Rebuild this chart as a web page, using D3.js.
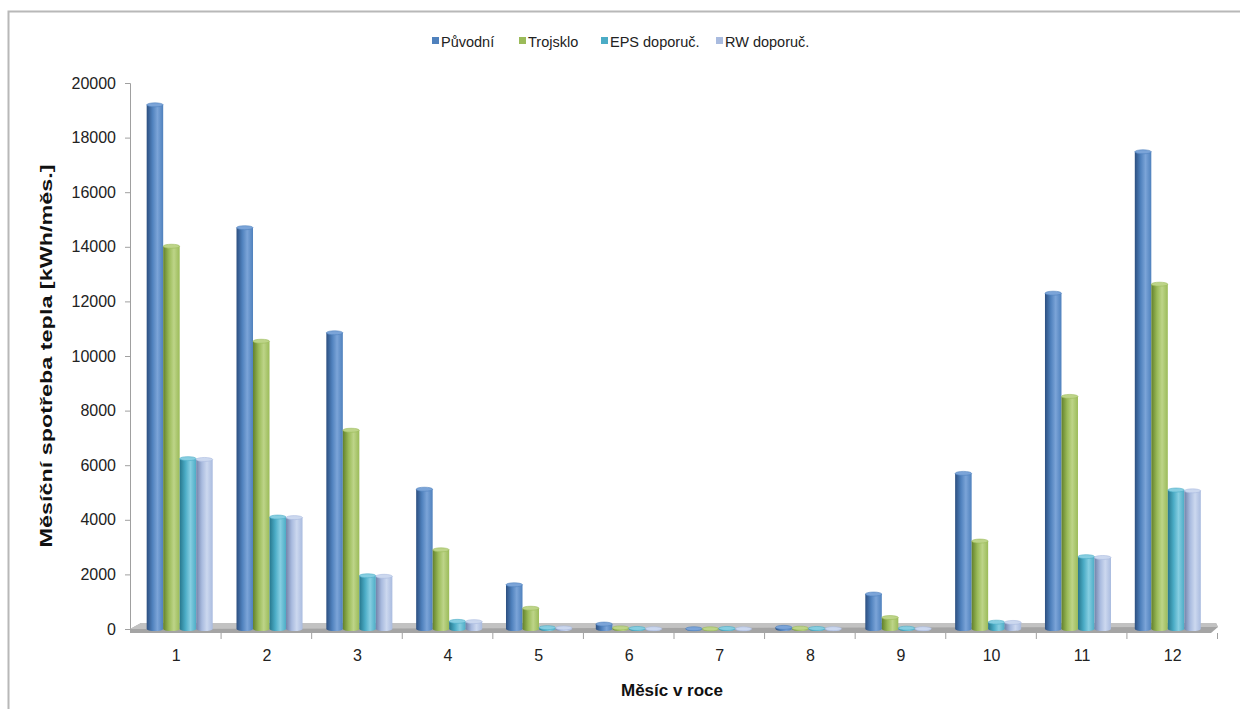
<!DOCTYPE html>
<html><head><meta charset="utf-8">
<script src="https://cdn.jsdelivr.net/npm/d3@7"></script>
<style>body{margin:0;background:#fff;}svg{display:block;font-family:"Liberation Sans",Arial,sans-serif;}</style>
</head><body>
<svg id="c" width="1240" height="709"></svg>
<script>
const months = ["1","2","3","4","5","6","7","8","9","10","11","12"];
const seriesNames = ["Původní","Trojsklo","EPS doporuč.","RW doporuč."];
const puvodni  = [19200,14700,10850,5120,1620,180,10,60,1280,5700,12300,17480];
const trojsklo = [14020,10540,7280,2900,760,40,5,30,420,3220,8520,12630];
const eps      = [6240,4100,1950,280,50,20,20,20,30,250,2650,5090];
const rw       = [6210,4080,1930,270,40,10,5,10,10,240,2620,5060];
const yTicks   = [0,2000,4000,6000,8000,10000,12000,14000,16000,18000,20000];
const colors = [
  {base:"#4f81bd", dark:"#2c4f80", light:"#7ba4d8"},
  {base:"#9bbb59", dark:"#62802b", light:"#bdd488"},
  {base:"#4bacc6", dark:"#27778d", light:"#86cee1"},
  {base:"#a9bbdf", dark:"#7183aa", light:"#ccd8ef"}
];
const allSeries = [puvodni, trojsklo, eps, rw];

const svg = d3.select("#c");
svg.append("rect").attr("x",8.5).attr("y",11.5).attr("width",1240).attr("height",709)
  .attr("fill","none").attr("stroke","#b8b8b8").attr("stroke-width",2);

const defs = svg.append("defs");
colors.forEach((c,i)=>{
  const g = defs.append("linearGradient").attr("id","g"+i).attr("x1","0").attr("x2","1").attr("y1","0").attr("y2","0");
  g.append("stop").attr("offset","0%").attr("stop-color",c.dark);
  g.append("stop").attr("offset","35%").attr("stop-color",c.base);
  g.append("stop").attr("offset","65%").attr("stop-color",c.light);
  g.append("stop").attr("offset","100%").attr("stop-color",c.base);
});

const y = d3.scaleLinear().domain([0,20000]).range([629,83]);
const xLab = d3.scaleBand().domain(months).range([131,1218]);
const xBar = d3.scaleBand().domain(months).range([135,1212.5]).paddingInner(0.265).paddingOuter(0.13);
const xSer = d3.scaleBand().domain(seriesNames).range([0,xBar.bandwidth()]);

const yAxis = d3.axisLeft(y).tickValues(yTicks).tickFormat(d3.format("d")).tickSize(5).tickPadding(9);
const ya = svg.append("g").attr("transform","translate(130,0)").call(yAxis);
ya.select(".domain").attr("stroke","#a0a0a0");
ya.selectAll(".tick line").attr("stroke","#a0a0a0");
ya.selectAll("text").attr("font-size",16).attr("fill","#222").attr("font-family","Liberation Sans, Arial, sans-serif");

// floor
svg.append("polygon").attr("points","130,633 1211,633 1218,627 1216,623 141,623 130,629")
  .attr("fill","#a4a4a4");
svg.append("polygon").attr("points","141,623 1216,623 1218,627 130,629").attr("fill","#c2c2c2");

const xa = svg.append("g");
const seps = months.map(m=>xLab(m)).concat([xLab.range()[1]]);
seps.slice(1).forEach(s=>{
  xa.append("line").attr("x1",s-0.5).attr("x2",s-0.5).attr("y1",633).attr("y2",639).attr("stroke","#a0a0a0");
});
xa.selectAll("text.lab").data(months).join("text").attr("class","lab")
  .attr("x",d=>xLab(d)+xLab.bandwidth()/2).attr("y",661).attr("text-anchor","middle")
  .attr("font-size",16).attr("fill","#222").text(d=>d);

const bars = svg.append("g");
allSeries.forEach((vals,si)=>{
  months.forEach((m,mi)=>{
    const v = vals[mi];
    const x0 = xBar(m) + xSer(seriesNames[si]);
    const w = xSer.bandwidth();
    const top = y(v), bot = y(0);
    const ry = 2;
    bars.append("path")
      .attr("d",`M${x0},${top} L${x0},${bot} A${w/2},${ry} 0 0 0 ${x0+w},${bot} L${x0+w},${top} Z`)
      .attr("fill",`url(#g${si})`);
    bars.append("ellipse").attr("cx",x0+w/2).attr("cy",top).attr("rx",w/2).attr("ry",ry)
      .attr("fill",colors[si].light).attr("stroke",colors[si].base).attr("stroke-width",0.6);
  });
});

const legX = [432,519,601,716];
const leg = svg.append("g");
seriesNames.forEach((n,i)=>{
  leg.append("rect").attr("x",legX[i]).attr("y",37).attr("width",7).attr("height",7).attr("fill",colors[i].base);
  leg.append("text").attr("x",legX[i]+9).attr("y",47).attr("font-size",14.5).attr("fill","#222").text(n);
});

svg.append("text").attr("transform","translate(52,356) rotate(-90)").attr("text-anchor","middle")
  .attr("font-size",17).attr("font-weight","bold").attr("fill","#111")
  .attr("textLength",383).attr("lengthAdjust","spacingAndGlyphs")
  .text("Měsíční spotřeba tepla [kWh/měs.]");
svg.append("text").attr("x",672).attr("y",696).attr("text-anchor","middle")
  .attr("font-size",17).attr("font-weight","bold").attr("fill","#111").text("Měsíc v roce");
</script>
</body></html>
